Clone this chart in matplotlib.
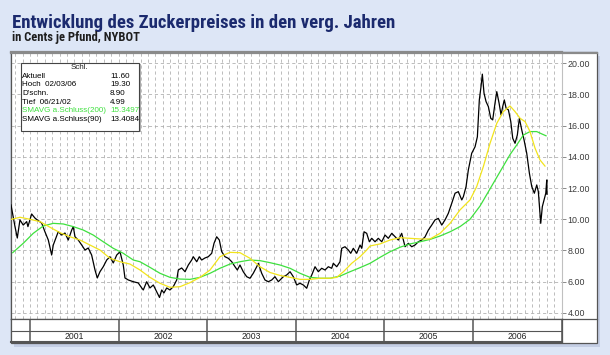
import matplotlib
matplotlib.use("Agg")
import matplotlib.pyplot as plt
from matplotlib.patches import Rectangle
from matplotlib.lines import Line2D

plt.rcParams['lines.scale_dashes'] = False

# ---------------- data ----------------
price_year = [2000.786, 2000.831, 2000.857, 2000.887, 2000.924, 2000.963, 2000.977, 2001.019, 2001.056, 2001.082,
              2001.132, 2001.169, 2001.207, 2001.245, 2001.263, 2001.319, 2001.358, 2001.395, 2001.432, 2001.471,
              2001.489, 2001.508, 2001.545, 2001.584, 2001.621, 2001.658, 2001.696, 2001.734, 2001.760, 2001.790,
              2001.827, 2001.866, 2001.903, 2001.940, 2001.979, 2002.016, 2002.053, 2002.072, 2002.110, 2002.166,
              2002.222, 2002.261, 2002.279, 2002.317, 2002.354, 2002.392, 2002.430, 2002.462, 2002.487, 2002.512,
              2002.543, 2002.580, 2002.617, 2002.656, 2002.674, 2002.712, 2002.750, 2002.787, 2002.825, 2002.843,
              2002.882, 2002.911, 2002.938, 2002.975, 2003.012, 2003.051, 2003.077, 2003.107, 2003.137, 2003.164,
              2003.201, 2003.238, 2003.277, 2003.314, 2003.340, 2003.370, 2003.407, 2003.446, 2003.483, 2003.520,
              2003.559, 2003.577, 2003.615, 2003.652, 2003.690, 2003.728, 2003.765, 2003.803, 2003.859, 2003.897,
              2003.935, 2003.972, 2004.010, 2004.047, 2004.085, 2004.123, 2004.153, 2004.180, 2004.217, 2004.254,
              2004.292, 2004.330, 2004.367, 2004.405, 2004.423, 2004.462, 2004.499, 2004.518, 2004.555, 2004.593,
              2004.620, 2004.649, 2004.687, 2004.725, 2004.744, 2004.770, 2004.800, 2004.830, 2004.857, 2004.894,
              2004.931, 2004.970, 2005.007, 2005.044, 2005.083, 2005.120, 2005.157, 2005.195, 2005.233, 2005.270,
              2005.308, 2005.345, 2005.383, 2005.421, 2005.458, 2005.496, 2005.534, 2005.571, 2005.608, 2005.647,
              2005.684, 2005.721, 2005.760, 2005.797, 2005.834, 2005.873, 2005.891, 2005.921, 2005.947, 2005.985,
              2006.023, 2006.049, 2006.071, 2006.090, 2006.105, 2006.124, 2006.147, 2006.173, 2006.200, 2006.222,
              2006.248, 2006.268, 2006.294, 2006.316, 2006.335, 2006.353, 2006.373, 2006.399, 2006.426, 2006.448,
              2006.474, 2006.500, 2006.523, 2006.550, 2006.576, 2006.606, 2006.636, 2006.663, 2006.692, 2006.719,
              2006.737, 2006.756, 2006.764, 2006.782, 2006.801, 2006.821, 2006.832, 2006.835]
price_close = [10.92, 9.53, 8.80, 9.96, 9.63, 9.85, 9.53, 10.34, 10.08, 9.96,
               9.76, 9.20, 8.67, 7.71, 8.35, 9.20, 8.99, 9.12, 8.67, 9.31,
               9.53, 8.88, 8.67, 8.35, 8.03, 8.16, 7.71, 6.75, 6.24, 6.64,
               6.96, 7.39, 7.60, 7.20, 7.71, 7.92, 7.07, 6.24, 6.11, 6.00,
               5.92, 5.60, 5.47, 6.00, 5.60, 5.79, 5.36, 4.99, 5.47, 5.28,
               5.60, 5.47, 5.68, 6.11, 6.75, 6.88, 6.64, 7.07, 7.39, 7.60,
               7.28, 7.60, 7.39, 7.52, 7.60, 7.82, 8.46, 8.88, 8.67, 7.92,
               7.60, 7.50, 7.28, 6.96, 6.75, 7.07, 6.64, 6.32, 6.22, 6.54,
               6.96, 7.18, 6.54, 6.11, 6.00, 6.11, 6.32, 6.00, 6.32, 6.43,
               6.64, 6.32, 5.79, 5.90, 5.79, 5.58, 6.11, 6.43, 6.96, 6.64,
               6.86, 6.75, 6.96, 6.86, 7.18, 6.96, 7.28, 8.14, 8.24, 8.03,
               7.82, 8.14, 7.82, 8.35, 8.14, 9.20, 9.10, 8.56, 8.78, 8.56,
               8.78, 8.56, 8.99, 8.78, 9.10, 8.88, 8.67, 9.10, 8.24, 8.46,
               8.24, 8.35, 8.56, 8.67, 8.87, 9.31, 9.63, 9.96, 10.06, 9.63,
               9.96, 10.38, 11.03, 11.67, 11.77, 11.24, 11.45, 12.09, 13.16, 14.23,
               14.65, 15.29, 17.65, 18.50, 19.30, 18.08, 17.54, 17.22, 16.47, 16.37,
               17.44, 18.18, 17.44, 16.69, 17.22, 17.65, 17.12, 17.01, 16.26, 15.19,
               14.87, 15.40, 16.47, 15.72, 15.08, 14.23, 12.95, 12.09, 11.67, 12.20,
               11.77, 10.38, 9.74, 10.81, 11.24, 11.67, 12.52, 11.60]

sma200_year = [2000.805, 2000.924, 2001.037, 2001.150, 2001.263, 2001.376, 2001.489, 2001.602, 2001.714, 2001.827,
               2001.940, 2002.053, 2002.166, 2002.242, 2002.354, 2002.467, 2002.580, 2002.693, 2002.806, 2002.919,
               2003.032, 2003.144, 2003.257, 2003.370, 2003.483, 2003.596, 2003.709, 2003.822, 2003.935, 2004.047,
               2004.160, 2004.273, 2004.386, 2004.499, 2004.612, 2004.725, 2004.838, 2004.950, 2005.063, 2005.176,
               2005.289, 2005.402, 2005.515, 2005.628, 2005.741, 2005.853, 2005.966, 2006.079, 2006.192, 2006.305,
               2006.418, 2006.493, 2006.568, 2006.643, 2006.719, 2006.776, 2006.824]
sma200_value = [7.86, 8.46, 9.10, 9.57, 9.74, 9.70, 9.53, 9.31, 8.99, 8.56,
                8.14, 7.82, 7.39, 7.28, 6.92, 6.54, 6.28, 6.17, 6.15, 6.28,
                6.54, 6.86, 7.13, 7.28, 7.39, 7.35, 7.22, 7.07, 6.86, 6.54,
                6.28, 6.22, 6.22, 6.36, 6.64, 6.90, 7.18, 7.56, 7.92, 8.21,
                8.42, 8.56, 8.71, 8.93, 9.20, 9.53, 10.00, 10.85, 11.95, 13.05,
                14.15, 14.76, 15.40, 15.62, 15.62, 15.47, 15.35]

sma90_year = [2000.793, 2000.887, 2001.000, 2001.113, 2001.226, 2001.339, 2001.451, 2001.564, 2001.677, 2001.790,
              2001.903, 2002.016, 2002.129, 2002.242, 2002.354, 2002.467, 2002.580, 2002.693, 2002.806, 2002.919,
              2003.032, 2003.144, 2003.257, 2003.370, 2003.483, 2003.596, 2003.709, 2003.822, 2003.935, 2004.047,
              2004.160, 2004.273, 2004.386, 2004.462, 2004.537, 2004.631, 2004.725, 2004.800, 2004.838, 2004.950,
              2005.063, 2005.176, 2005.289, 2005.402, 2005.515, 2005.628, 2005.741, 2005.853, 2005.966, 2006.041,
              2006.116, 2006.192, 2006.268, 2006.342, 2006.418, 2006.474, 2006.531, 2006.587, 2006.643, 2006.700,
              2006.756, 2006.812]
sma90_value = [10.00, 10.13, 10.00, 9.85, 9.49, 9.14, 8.88, 8.67, 8.35, 8.03,
               7.50, 7.28, 7.13, 6.75, 6.28, 5.90, 5.64, 5.68, 5.94, 6.28,
               6.75, 7.60, 7.88, 7.86, 7.50, 6.96, 6.59, 6.40, 6.28, 6.15,
               6.15, 6.22, 6.22, 6.28, 6.64, 7.18, 7.60, 8.03, 8.29, 8.42,
               8.67, 8.82, 8.78, 8.74, 8.74, 9.10, 9.74, 10.60, 11.24, 12.09,
               13.37, 14.87, 16.15, 16.90, 17.26, 16.90, 16.47, 16.26, 15.62, 14.55,
               13.80, 13.41]

stats_labels = ["Aktuell", "Hoch  02/03/06", "D'schn.", "Tief  06/21/02",
                "SMAVG a.Schluss(200)", "SMAVG a.Schluss(90)"]
stats_values = ["11.60", "19.30", "8.90", "4.99", "15.3497", "13.4084"]
stats_header = "Schl."

year_labels = [2001, 2002, 2003, 2004, 2005, 2006]
y_ticks = [4, 6, 8, 10, 12, 14, 16, 18, 20]

title = "Entwicklung des Zuckerpreises in den verg. Jahren"
subtitle = "in Cents je Pfund, NYBOT"

# ---------------- layout helpers ----------------
W, H = 610, 355
fig = plt.figure(figsize=(W / 100, H / 100), dpi=100)
fig.patch.set_facecolor('#dde6f6')


def fx(px):
    return px / W


def fy(py):
    return 1 - py / H


X0, X1 = 2000.786, 2007.004
GREEN = '#3ee03e'
YELLOW = '#f2e41c'
FRAME = '#555555'

# shadow + white panel
fig.patches.append(Rectangle((fx(14), fy(347)), fx(586), (343 - 52) / H, transform=fig.transFigure,
                             facecolor='#c4cee4', edgecolor='none', zorder=-2))
fig.patches.append(Rectangle((fx(11), fy(343)), fx(586), (343 - 52) / H, transform=fig.transFigure,
                             facecolor='white', edgecolor=FRAME, linewidth=0.9, zorder=-1))

# ---------------- main chart ----------------
ax = fig.add_axes([fx(11), fy(319), fx(551), (319 - 52) / H])
ax.set_facecolor('white')
ax.set_xlim(X0, X1)
ax.set_ylim(3.61, 20.72)

grid_kw = dict(color='#ababab', linewidth=0.55, linestyle=(0, (2.3, 2.0)), zorder=1)
for yr in range(2000, 2007):
    for m in range(12):
        pos = yr + m / 12
        if X0 < pos < X1:
            ax.axvline(pos, **grid_kw)
for v in y_ticks:
    ax.axhline(v, **grid_kw)

ax.plot(price_year, price_close, color='black', linewidth=0.9, zorder=3)
ax.plot(sma200_year, sma200_value, color=GREEN, linewidth=0.9, zorder=4)
ax.plot(sma90_year, sma90_value, color=YELLOW, linewidth=0.9, zorder=4)

ax.yaxis.tick_right()
ax.set_yticks(y_ticks)
ax.set_yticklabels([f"{v:.2f}" for v in y_ticks], fontsize=6.4, color='#3a3a3a',
                   family=['Liberation Sans', 'DejaVu Sans'])
ax.tick_params(axis='y', length=3, width=0.6, color='#777777', pad=1)
ax.set_xticks([])
for side in ['left', 'bottom']:
    ax.spines[side].set_color(FRAME)
    ax.spines[side].set_linewidth(0.9)
ax.spines['right'].set_color('#c0c0c0')
ax.spines['right'].set_linewidth(0.8)
ax.spines['top'].set_color('#8a8a8a')
ax.spines['top'].set_linewidth(1.6)

# top border continued over the label column, line under the label column
fig.lines.append(Line2D([fx(11), fx(597)], [fy(52.6), fy(52.6)], transform=fig.transFigure,
                        color='#8a8a8a', linewidth=1.6, zorder=2))
fig.lines.append(Line2D([fx(562), fx(597)], [fy(319), fy(319)], transform=fig.transFigure,
                        color=FRAME, linewidth=0.9, zorder=2))

# ---------------- year strip ----------------
ax2 = fig.add_axes([fx(11), fy(342), fx(551), (342 - 319) / H])
ax2.set_facecolor('white')
ax2.set_xlim(X0, X1)
ax2.set_ylim(0, 2)
ax2.set_xticks([])
ax2.set_yticks([])
ax2.axhline(1.0, color=FRAME, linewidth=0.8)
for yr in year_labels:
    ax2.axvline(yr, color=FRAME, linewidth=1.1)
    ax2.text(yr + 0.5, 0.45, str(yr), ha='center', va='center', fontsize=6.2, color='#222222',
             family=['Liberation Sans', 'DejaVu Sans'])
ax2.axvline(2007, color=FRAME, linewidth=1.1)
for side in ax2.spines:
    ax2.spines[side].set_color(FRAME)
    ax2.spines[side].set_linewidth(0.9)
ax2.spines['bottom'].set_linewidth(1.5)

# ---------------- statistics box ----------------
bx0, by0, bx1, by1 = 20.7, 62.7, 139.3, 130.7
fig.patches.append(Rectangle((fx(bx0 + 1.5), fy(by1 + 1.5)), fx(bx1 - bx0), (by1 - by0) / H,
                             transform=fig.transFigure, facecolor='#b0b0b0', edgecolor='none', zorder=5))
fig.patches.append(Rectangle((fx(bx0), fy(by1)), fx(bx1 - bx0), (by1 - by0) / H,
                             transform=fig.transFigure, facecolor='white', edgecolor='#444444',
                             linewidth=0.8, zorder=6))
box_font = dict(fontsize=5.8, family=['Liberation Sans', 'DejaVu Sans'], va='center', zorder=7)
fig.text(fx(79.5), fy(67.3), stats_header, ha='center', color='#222222', **box_font)
row_y = [76.0, 84.6, 93.3, 102.2, 111.0, 119.8]
for lab, val, yy in zip(stats_labels, stats_values, row_y):
    col = GREEN if '(200)' in lab else 'black'
    fig.text(fx(22), fy(yy), lab, ha='left', color=col, **box_font)
    fig.text(fx(110), fy(yy), val, ha='left', color=col, **box_font)

# ---------------- titles ----------------
head_fam = ['Roboto Condensed', 'Liberation Sans Narrow', 'Lato', 'DejaVu Sans']
t1 = fig.text(fx(12), fy(27.5), title, fontsize=14, fontweight='bold', color='#1b2a6e',
              ha='left', va='baseline', family=head_fam)
t2 = fig.text(fx(12), fy(40.6), subtitle, fontsize=8, fontweight='bold', color='#1e1e1e',
              ha='left', va='baseline', family=head_fam)

renderer = fig.canvas.get_renderer()
for t, target in [(t1, 380.0), (t2, 128.0)]:
    for _ in range(3):
        w = t.get_window_extent(renderer).width
        t.set_fontsize(t.get_fontsize() * target / w)

fig.savefig("out.png", dpi=100, facecolor=fig.get_facecolor())
